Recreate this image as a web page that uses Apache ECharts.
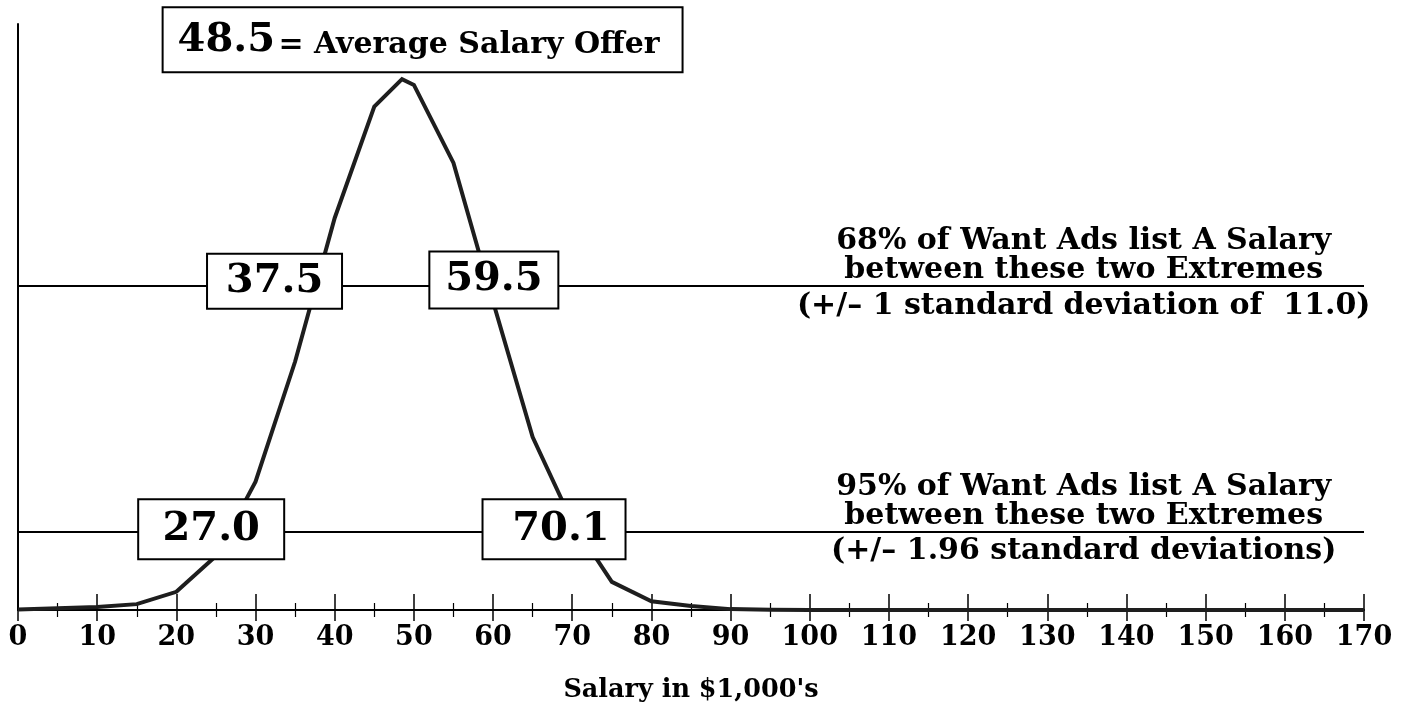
<!DOCTYPE html>
<html>
<head>
<meta charset="utf-8">
<script src="https://cdn.jsdelivr.net/npm/echarts@6/dist/echarts.min.js"></script>
<style>
html,body{margin:0;padding:0;background:#fff;}
#c{width:1408px;height:709px;}
</style>
</head>
<body>
<div id="c"></div>
<script>
// ---- data ----
const salaryX = [0, 5, 10, 15, 20, 25, 30, 35, 40, 45, 48.5, 50, 55, 60, 65, 70, 75, 80, 85, 90, 95, 100, 110, 120, 130, 140, 150, 160, 170];
const frequencyY = [0.1, 0.3, 0.5, 1.0, 3.1, 9.2, 21.9, 42.4, 66.9, 85.9, 90.6, 89.6, 76.3, 52.6, 29.5, 15.0, 4.8, 1.5, 0.7, 0.15, 0.05, 0, 0, 0, 0, 0, 0, 0, 0];
const xTickMin = 0, xTickMax = 170, xTickStep = 10;
const refLineLevels = [55.3, 13.4];            // 68% and 95% rules (y units)
const boxLabels = ['37.5', '59.5', '27.0', ' 70.1'];
const boxX = [32.4, 60.1, 24.4, 67.7];
const boxY = [56.1, 56.3, 13.8, 13.8];
const meanValue = '48.5';
const meanText = '= Average Salary Offer';
const meanX = 51.1, meanY = 97.3;
const noteLines = [
  '68% of Want Ads list A Salary',
  'between these two Extremes',
  '(+/\u2013 1 standard deviation of  11.0)',
  '95% of Want Ads list A Salary',
  'between these two Extremes',
  '(+/\u2013 1.96 standard deviations)'
];
const noteX = [134.6, 134.6, 134.6, 134.6, 134.6, 134.6];
const noteY = [63.0, 58.0, 51.9, 21.0, 16.0, 10.0];
const axisTitle = "Salary in $1,000's";

// ---- chart ----
const FONT = '"DejaVu Serif", serif';
const chart = echarts.init(document.getElementById('c'));
const curve = salaryX.map((x, i) => [x, frequencyY[i]]);
const boxSizes = [[133, 53], [127, 55], [144, 58], [141, 58]];
const boxData = boxLabels.map((t, i) => ({
  value: [boxX[i], boxY[i]],
  label: { formatter: t, width: boxSizes[i][0], height: boxSizes[i][1] }
}));
const noteData = noteLines.map((t, i) => ({ value: [noteX[i], noteY[i]], label: { formatter: t } }));

const tickCommon = { min: xTickMin, max: xTickMax, interval: xTickStep, type: 'value', position: 'bottom' };
const solid = { opacity: 1 };

chart.setOption({
  animation: false,
  backgroundColor: '#fff',
  grid: { left: 18, right: 44, top: 24, bottom: 99, containLabel: false },
  xAxis: [
    Object.assign({}, tickCommon, {
      axisLine: { show: true, lineStyle: { color: '#000', width: 2 } },
      axisTick: { show: true, inside: true, length: 16, lineStyle: { color: '#000', width: 1.5 } },
      minorTick: { show: true, splitNumber: 2, length: 7, lineStyle: { color: '#000', width: 1.2 } },
      splitLine: { show: false },
      axisLabel: { show: true, margin: 14, color: '#000', fontFamily: FONT, fontWeight: 'bold', fontSize: 27 },
      name: axisTitle, nameLocation: 'middle', nameGap: 67,
      nameTextStyle: { color: '#000', fontFamily: FONT, fontWeight: 'bold', fontSize: 25.5 }
    }),
    Object.assign({}, tickCommon, {
      axisLine: { show: false },
      axisTick: { show: true, inside: false, length: 11, lineStyle: { color: '#000', width: 1.5 } },
      minorTick: { show: true, splitNumber: 2, length: 7, lineStyle: { color: '#000', width: 1.2 } },
      splitLine: { show: false },
      axisLabel: { show: false }
    })
  ],
  yAxis: {
    type: 'value', min: 0, max: 100,
    axisLine: { show: true, lineStyle: { color: '#000', width: 2 } },
    axisTick: { show: false }, axisLabel: { show: false }, splitLine: { show: false }
  },
  series: [
    {
      type: 'line', data: [], xAxisIndex: 0, z: 1,
      markLine: {
        silent: true, symbol: 'none', animation: false,
        label: { show: false },
        lineStyle: { color: '#000', width: 2, type: 'solid', opacity: 1 },
        data: refLineLevels.map(v => ({ yAxis: v }))
      }
    },
    {
      type: 'line', data: curve, showSymbol: false, symbol: 'none', z: 2,
      lineStyle: { color: '#1e1e1e', width: 4, join: 'miter' }
    },
    {
      type: 'scatter', symbolSize: 0, z: 5, data: boxData, itemStyle: solid,
      label: {
        show: true, position: 'inside', align: 'center', verticalAlign: 'middle', opacity: 1,
        color: '#000', fontFamily: FONT, fontWeight: 'bold', fontSize: 40, textBorderWidth: 0,
        backgroundColor: '#fff', borderColor: '#000', borderWidth: 2, padding: 0
      }
    },
    {
      type: 'scatter', symbolSize: 0, z: 5, itemStyle: solid,
      data: [{ value: [meanX, meanY] }],
      label: {
        show: true, position: 'inside', align: 'center', verticalAlign: 'middle', opacity: 1,
        formatter: '{a|' + meanValue + '} {b|' + meanText + '}', textBorderWidth: 0,
        backgroundColor: '#fff', borderColor: '#000', borderWidth: 2, padding: [12, 22, 11, 14],
        rich: {
          a: { fontFamily: FONT, fontWeight: 'bold', fontSize: 40, color: '#000', verticalAlign: 'bottom', textBorderWidth: 0 },
          b: { fontFamily: FONT, fontWeight: 'bold', fontSize: 30, color: '#000', verticalAlign: 'bottom', textBorderWidth: 0 }
        }
      }
    },
    {
      type: 'scatter', symbolSize: 0, z: 5, data: noteData, itemStyle: solid,
      label: {
        show: true, position: 'inside', align: 'center', verticalAlign: 'middle', opacity: 1,
        color: '#000', fontFamily: FONT, fontWeight: 'bold', fontSize: 30, textBorderWidth: 0
      }
    }
  ]
});
</script>
</body>
</html>
